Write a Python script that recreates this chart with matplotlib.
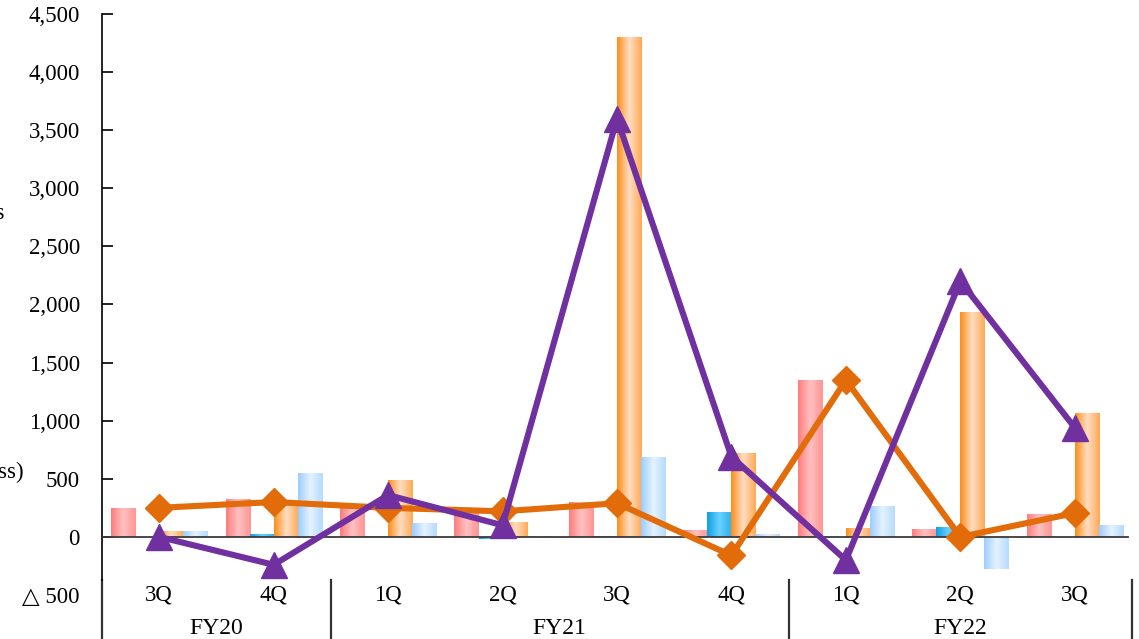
import numpy as np
import matplotlib
matplotlib.use("Agg")
import matplotlib.pyplot as plt
from matplotlib.colors import LinearSegmentedColormap

plt.rcParams["font.family"] = ["Liberation Serif", "DejaVu Sans"]

quarters = ["3Q", "4Q", "1Q", "2Q", "3Q", "4Q", "1Q", "2Q", "3Q"]
years = ["FY20", "FY21", "FY22"]
year_span = [(0, 1), (2, 5), (6, 8)]

red = [250, 330, 250, 240, 300, 60, 1350, 70, 200]
cyan = [0, 25, 10, -15, 10, 210, 0, 85, 0]
orange = [50, 290, 490, 130, 4300, 720, 80, 1935, 1065]
light_blue = [50, 550, 120, 10, 690, 25, 270, -280, 100]
line_diamond = [250, 300, 250, 220, 290, -160, 1350, 0, 205]
line_triangle = [0, -240, 360, 100, 3600, 690, -200, 2200, 940]

yticks = list(range(-500, 4501, 500))

W, H = 1139, 639
fig = plt.figure(figsize=(W / 100, H / 100), dpi=100)
ax = fig.add_axes([102 / W, 1 - 595 / H, (1132 - 102) / W, (595 - 14) / H])

x = np.arange(len(quarters))
bw = 0.21
series = [
    (red, "#FF7C7C", "#FFC0C0"),
    (cyan, "#0FA0E0", "#66D0FF"),
    (orange, "#FF8E1A", "#FFDCC0"),
    (light_blue, "#9CCEFF", "#E4F2FF"),
]

# shaded column look: dark edges, pale middle
grad = np.concatenate([np.linspace(0, 1, 30), np.linspace(1, 0.35, 30)])[None, :]
for k, (vals, edge, mid) in enumerate(series):
    cmap = LinearSegmentedColormap.from_list(f"g{k}", [edge, mid])
    bars = ax.bar(x + (k - 1.5) * bw, vals, width=bw, color=edge, linewidth=0, zorder=2)
    for b in bars:
        x0, y0 = b.get_x(), b.get_y()
        x1, y1 = x0 + b.get_width(), y0 + b.get_height()
        im = ax.imshow(grad, cmap=cmap, extent=(x0, x1, min(y0, y1), max(y0, y1)),
                       aspect="auto", zorder=2.1, interpolation="bilinear")
        im.set_clip_path(b)

ax.axhline(0, color="#3a3a3a", lw=1.3, zorder=3, xmax=0.996)

ax.plot(x, line_diamond, color="#E36C0A", lw=4.4, marker="D", ms=14, zorder=4)
ax.plot(x, line_triangle, color="#7030A0", lw=4.4, marker="^", ms=19, zorder=5)

ax.set_xlim(-0.5, len(quarters) - 0.5)
ax.set_ylim(-500, 4500)
ax.set_yticks(yticks)
ax.set_yticklabels(["\u25b3 500" if v < 0 else f"{v:,}" for v in yticks])
ax.tick_params(axis="y", direction="in", length=8, width=1.2, pad=16, labelsize=16.5)
ax.yaxis.get_major_ticks()[0].tick1line.set_visible(False)
ax.set_xticks([])
for s in ("top", "right", "bottom"):
    ax.spines[s].set_visible(False)
ax.spines["left"].set_bounds(-370, 4500)
ax.spines["left"].set_linewidth(1.2)

# two-level category labels with separators
tr = ax.get_xaxis_transform()
for i, q in enumerate(quarters):
    ax.text(i, 0.0, q, transform=tr, ha="center", va="center", fontsize=16.5)
for name, (a, b) in zip(years, year_span):
    ax.text((a + b) / 2, -0.057, name, transform=tr, ha="center", va="center", fontsize=17)
for sep in (-0.5, 1.5, 5.5, 8.5):
    ax.plot([sep, sep], [0.026, -0.08], transform=tr, color="#333333", lw=1.6, clip_on=False)

fig.text(5 / W, 1 - 214 / H, "Millions", ha="right", va="center", fontsize=16.5)
fig.text(24 / W, 1 - 472 / H, "Profit (Loss)", ha="right", va="center", fontsize=16.5)

fig.savefig("out.png", dpi=100)
